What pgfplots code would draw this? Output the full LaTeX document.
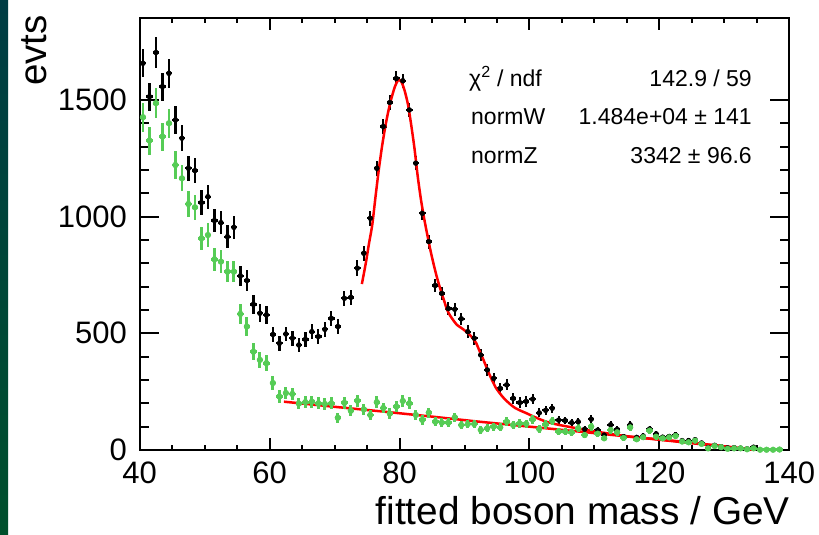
\documentclass[border=0pt]{standalone}
\usepackage{fontspec}
\setmainfont{Liberation Sans}
\usepackage{pgfplots}
\usepackage{pgfplotstable}
\pgfplotsset{compat=1.18}
\definecolor{rootgreen}{RGB}{86,204,86}
\definecolor{rootred}{RGB}{255,0,0}
\definecolor{stripTop}{RGB}{0,60,68}
\definecolor{stripBot}{RGB}{0,80,44}

% all events (signal + background): bin centre, content, error
\pgfplotstableread{
x y e
40.5 1657 60
41.5 1514 60
42.5 1703 66
43.5 1557 60
44.5 1614 62
45.5 1414 58
46.5 1336 56
47.5 1207 54
48.5 1197 54
49.5 1060 52
50.5 1085 52
51.5 983 50
52.5 974 50
53.5 914 48
54.5 954 48
55.5 746 44
56.5 726 44
57.5 624 40
58.5 586 38
59.5 579 38
60.5 495 34
61.5 457 32
62.5 497 32
63.5 479 32
64.5 450 31
65.5 474 31
66.5 507 32
67.5 486 32
68.5 517 32
69.5 564 32
70.5 529 32
71.5 650 32
72.5 654 32
73.5 779 33
74.5 843 33
75.5 993 33
76.5 1207 33
77.5 1386 33
78.5 1489 32
79.5 1592 30
80.5 1582 30
81.5 1457 30
82.5 1229 30
83.5 1014 30
84.5 893 30
85.5 705 28
86.5 671 28
87.5 606 28
88.5 603 28
89.5 562 27
90.5 507 27
91.5 479 27
92.5 407 26
93.5 343 26
94.5 307 25
95.5 264 24
96.5 279 24
97.5 221 22
98.5 203 22
99.5 208 22
100.5 218 22
101.5 159 19
102.5 170 19
103.5 179 19
104.5 128 16
105.5 126 16
106.5 117 16
107.5 121 16
108.5 89 15
109.5 132 16
110.5 85 14
111.5 64 13
112.5 108 15
113.5 88 14
114.5 57 12
115.5 108 15
116.5 54 12
117.5 60 12
118.5 90 14
119.5 69 12
120.5 55 11
121.5 58 11
122.5 64 12
123.5 40 10
124.5 40 10
125.5 44 10
126.5 30 9
127.5 10 5
128.5 20 7
129.5 14 6
130.5 9 5
131.5 10 5
132.5 8 5
133.5 5 4
134.5 12 6
}\blackdata

% background only
\pgfplotstableread{
x y e
40.5 1426 62
41.5 1326 60
42.5 1486 64
43.5 1343 60
44.5 1400 62
45.5 1221 58
46.5 1164 56
47.5 1054 54
48.5 1040 54
49.5 907 50
50.5 921 50
51.5 817 48
52.5 807 48
53.5 764 46
54.5 764 46
55.5 583 42
56.5 529 40
57.5 421 36
58.5 386 34
59.5 372 34
60.5 287 30
61.5 229 27
62.5 244 27
63.5 240 27
64.5 199 25
65.5 205 25
66.5 207 25
67.5 200 25
68.5 197 25
69.5 200 25
70.5 138 21
71.5 202 25
72.5 168 23
73.5 211 25
74.5 174 23
75.5 150 21
76.5 205 25
77.5 180 23
78.5 156 22
79.5 186 24
80.5 210 25
81.5 200 25
82.5 150 21
83.5 129 20
84.5 160 22
85.5 121 19
86.5 117 19
87.5 117 19
88.5 140 20
89.5 107 18
90.5 111 18
91.5 111 18
92.5 86 16
93.5 93 17
94.5 100 17
95.5 97 17
96.5 121 19
97.5 107 18
98.5 114 18
99.5 112 18
100.5 131 20
101.5 90 16
102.5 110 18
103.5 124 19
104.5 79 15
105.5 79 15
106.5 76 15
107.5 93 17
108.5 64 14
109.5 100 17
110.5 70 14
111.5 50 12
112.5 86 16
113.5 76 15
114.5 52 12
115.5 97 17
116.5 46 12
117.5 55 13
118.5 83 16
119.5 57 13
120.5 50 12
121.5 54 13
122.5 60 13
123.5 36 10
124.5 33 10
125.5 40 11
126.5 26 9
127.5 7 5
128.5 17 7
129.5 12 6
130.5 5 4
131.5 7 5
132.5 7 5
133.5 3 3
134.5 7 5
135.5 1 2
136.5 1 2
137.5 1 2
138.5 2 2
}\greendata

% total fit curve
\pgfplotstableread{
x y
74.2 711
74.8 800
75.3 885
75.8 965
76.3 1085
76.8 1200
77.3 1300
77.8 1385
78.3 1455
78.8 1512
79.3 1558
79.8 1585
80.3 1577
80.8 1538
81.3 1480
81.8 1392
82.3 1292
82.8 1172
83.3 1072
83.8 990
84.3 918
84.8 850
85.3 790
85.8 735
86.3 688
86.8 645
87.3 602
87.8 575
88.3 555
88.8 537
89.3 527
89.8 517
90.3 506
90.8 494
91.3 478
91.8 458
92.3 425
92.8 394
93.3 360
93.8 326
94.3 296
94.8 268
95.3 248
95.8 230
96.3 215
96.8 202
97.3 190
97.8 180
98.5 170
99.5 158
100.5 145
101.5 133
102.5 122
103.5 114
105 105
107.5 92
110 80
112.5 69
115 59
120 44
125 29
130 15
134.6 1
}\totalfit

% background fit line
\pgfplotstableread{
x y
62.2 207
70 185
77 166
85 143
92 122
100 100
108 78
115 58
122 40
128 22
134.6 1
}\bgfit

\begin{document}
\begin{tikzpicture}[x=1bp,y=1bp]
\useasboundingbox (0,0) rectangle (819,535);
\fill[white] (0,0) rectangle (819,535);
\shade[top color=stripTop, bottom color=stripBot] (0,0) rectangle (8,535);

% axis with x ticks (shorter ticks)
\begin{axis}[
  at={(139.7bp,85bp)}, anchor=south west, scale only axis,
  width=649.6bp, height=432bp,
  xmin=40, xmax=140, ymin=0, ymax=1851,
  axis line style={line width=2bp},
  xtick={40,60,80,100,120,140}, minor x tick num=3,
  ytick=\empty,
  tick align=inside,
  major tick length=12bp, minor tick length=5bp,
  every tick/.style={line width=2bp, black},
  /pgf/number format/assume math mode=true,
  /pgf/number format/1000 sep={},
  xticklabel style={font=\fontsize{31bp}{34bp}\selectfont, inner sep=0pt, yshift=-12bp},
]
\end{axis}

% main axis with y ticks and the data
\begin{axis}[
  at={(139.7bp,85bp)}, anchor=south west, scale only axis,
  width=649.6bp, height=432bp,
  xmin=40, xmax=140, ymin=0, ymax=1851,
  clip=false,
  axis line style={line width=2bp},
  xtick=\empty,
  ytick={0,500,1000,1500}, minor y tick num=4,
  tick align=inside,
  major tick length=19bp, minor tick length=9.5bp,
  every tick/.style={line width=2bp, black},
  /pgf/number format/assume math mode=true,
  /pgf/number format/1000 sep={},
  yticklabel style={font=\fontsize{31bp}{34bp}\selectfont, inner sep=0pt, anchor=east, xshift=-12.7bp},
]
\addplot[only marks, mark=*, mark size=2.5bp, black,
  error bars/.cd, x dir=both, x fixed=0.5, y dir=both, y explicit, error mark=none,
  error bar style={line width=2.3bp, black}]
  table[x=x, y=y, y error=e] {\blackdata};
\addplot[rootred, line width=2.5bp, smooth, tension=0.4] table[x=x, y=y] {\totalfit};
\addplot[rootred, line width=2.5bp] table[x=x, y=y] {\bgfit};
\addplot[only marks, mark=*, mark size=2.9bp, rootgreen,
  error bars/.cd, x dir=both, x fixed=0.5, y dir=both, y explicit, error mark=none,
  error bar style={line width=2.8bp, rootgreen}]
  table[x=x, y=y, y error=e] {\greendata};
\end{axis}

% axis titles
\node[anchor=base east, inner sep=0pt, font=\fontsize{38.8bp}{42bp}\selectfont] at (790,10) {fitted boson mass / GeV};
\node[rotate=90, anchor=base east, inner sep=0pt, font=\fontsize{38.5bp}{42bp}\selectfont] at (46.7,520) {evts};

% fit statistics
\begin{scope}[every node/.style={inner sep=0pt, font=\fontsize{23bp}{26bp}\selectfont}]
\node[anchor=base west] at (469,448.3) {χ\textsuperscript{2} / ndf};
\node[anchor=base east] at (752,448.3) {142.9 / 59};
\node[anchor=base west] at (471,410) {normW};
\node[anchor=base east] at (752,410) {1.484e+04 ± 141};
\node[anchor=base west] at (471,371) {normZ};
\node[anchor=base east] at (752,371) {3342 ± 96.6};
\end{scope}
\end{tikzpicture}
\end{document}
